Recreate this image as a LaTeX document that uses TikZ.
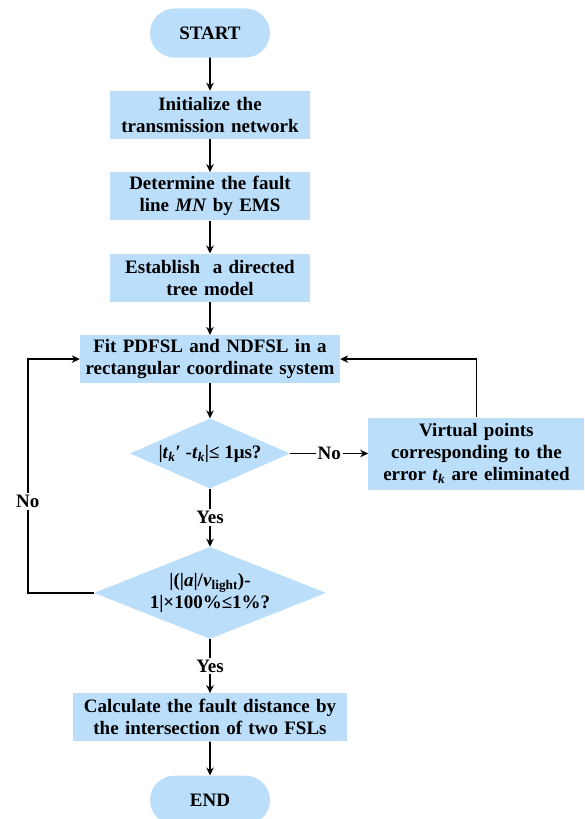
\documentclass[tikz,border=0pt]{standalone}
\usepackage{fontspec}
\setmainfont{Liberation Serif}
\usetikzlibrary{%
	positioning,
	calc,
	arrows.meta,
	shapes.misc,
	shapes.geometric
}
\definecolor{boxblue}{RGB}{187,222,251}
\newcommand{\tk}{\textit{t}\textsubscript{\textit{k}}}

\begin{document}
\begin{tikzpicture}[
		font=\fontsize{19}{22}\selectfont\bfseries,
		SProc/.style={draw=none,fill=boxblue,shape=rectangle,align=center,inner xsep=2pt,inner ysep=0pt,minimum height=48pt},
		STerm/.style={draw=none,fill=boxblue,shape=rounded rectangle,minimum width=120pt,minimum height=49pt,inner sep=0pt},
		SDec/.style={draw=none,fill=boxblue,shape=diamond,align=center,inner sep=0pt,aspect=2.4},
		flow/.style={line width=1.6pt,-{Stealth[length=8pt,width=7.5pt]}},
		tag/.style={fill=white,inner sep=2pt}
	]
	
	\useasboundingbox (-210pt,33pt) rectangle (375pt,-786pt);
	
		%main column
		\node(start) [STerm] at (0,0) {START};
		\node(init) [SProc, text width=196pt, below=33pt of start] {Initialize the\\transmission network};
		\node(line) [SProc, text width=196pt, below=33pt of init] {Determine the fault\\line \textit{MN} by EMS};
		\node(tree) [SProc, text width=196pt, below=33pt of line] {Establish\ \ a directed\\tree model};
		\node(fit) [SProc, text width=256pt, below=33pt of tree] {Fit PDFSL and NDFSL in a\\rectangular coordinate system};
		\node(dec1) [SDec, minimum width=160pt, minimum height=70pt, below=35pt of fit] {|\tk′ -\tk|≤ 1μs?};
		\node(virt) [SProc, text width=212pt, minimum height=72pt, right=78pt of dec1] {Virtual points\\corresponding to the\\error \tk{} are eliminated};
		\node(dec2) [SDec, minimum width=232pt, minimum height=92pt, below=58pt of dec1] {|(|\textit{a}|/\textit{v}\textsubscript{light})-\\1|×100\%≤1\%?};
		\node(calc) [SProc, text width=270pt, below=54pt of dec2] {Calculate the fault distance by\\the intersection of two FSLs};
		\node(end) [STerm, below=34pt of calc] {END};
		
		\draw [flow] (start) -- (init);
		\draw [flow] (init) -- (line);
		\draw [flow] (line) -- (tree);
		\draw [flow] (tree) -- (fit);
		\draw [flow] (fit) -- (dec1);
		\draw [flow] (dec1) -- node [tag] {Yes} (dec2);
		\draw [flow] (dec2) -- node [tag] {Yes} (calc);
		\draw [flow] (calc) -- (end);
		
		%loops back
		\draw [flow] (dec1.east) -- node [tag] {No} (virt.west);
		\draw [flow] (virt.north) |- (fit.east);
		\coordinate (back) at ($(dec2.west)+(-66pt,0)$);
		\draw [flow] (dec2.west) -- (back) -- node [tag,pos=.39] {No} (back |- fit.west) -- (fit.west);
	
\end{tikzpicture}
\end{document}
